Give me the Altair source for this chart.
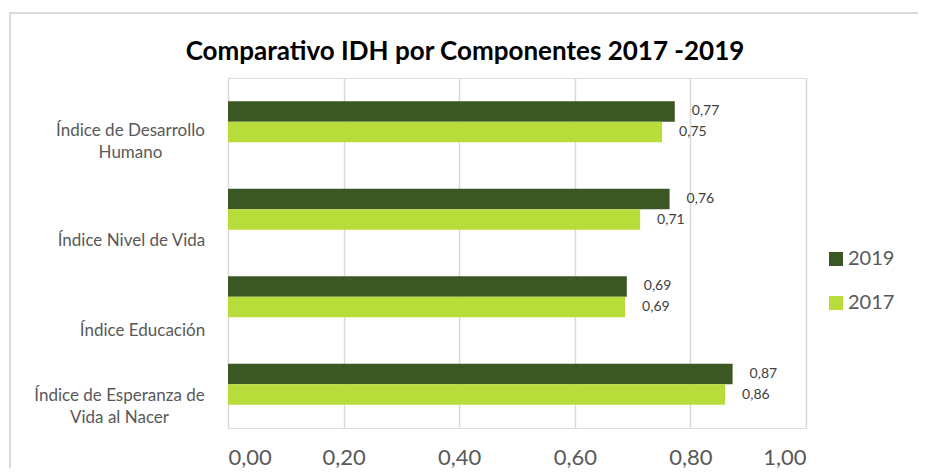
import altair as alt
import pandas as pd

categories = [
    "Índice de Desarrollo Humano",
    "Índice Nivel de Vida",
    "Índice Educación",
    "Índice de Esperanza de Vida al Nacer",
]
years = ["2019", "2017"]
values_2019 = [0.773, 0.764, 0.690, 0.873]
values_2017 = [0.751, 0.713, 0.687, 0.860]
x_ticks = [0.0, 0.2, 0.4, 0.6, 0.8, 1.0]
colors = ["#3A5724", "#B8DC3A"]

rows = []
for c, v19, v17 in zip(categories, values_2019, values_2017):
    rows.append({"cat": c, "year": "2019", "value": v19})
    rows.append({"cat": c, "year": "2017", "value": v17})
df = pd.DataFrame(rows)

FONT = "Lato"
label_expr = (
    "datum.value == 'Índice de Desarrollo Humano' ? ['Índice de Desarrollo', 'Humano'] : "
    "datum.value == 'Índice de Esperanza de Vida al Nacer' ? ['Índice de Esperanza de', 'Vida al Nacer'] : "
    "datum.value"
)

label_padding = {
    "condition": [
        {"test": "datum.value == 'Índice de Desarrollo Humano'", "value": 98},
        {"test": "datum.value == 'Índice Nivel de Vida'", "value": 97},
        {"test": "datum.value == 'Índice Educación'", "value": 86},
    ],
    "value": 109,
}
label_offset = {
    "condition": [
        {"test": "datum.value == 'Índice de Desarrollo Humano'", "value": 18},
        {"test": "datum.value == 'Índice de Esperanza de Vida al Nacer'", "value": 21},
        {"test": "datum.value == 'Índice Educación'", "value": 43},
    ],
    "value": 41,
}

y_enc = alt.Y(
    "cat:N",
    sort=categories,
    scale=alt.Scale(paddingInner=0.53, paddingOuter=0.265),
    axis=alt.Axis(
        title=None, domain=False, ticks=False, grid=False,
        labelExpr=label_expr, labelAlign="center", labelBaseline="bottom",
        labelOffset=label_offset, labelPadding=label_padding,
        labelFontSize=17, labelColor="#595959",
        labelFont=FONT, labelLineHeight=22, labelLimit=300,
    ),
)
x_enc = alt.X(
    "value:Q",
    scale=alt.Scale(domain=[0, 1], nice=False),
    axis=alt.Axis(
        title=None, values=x_ticks, domain=False, ticks=False, grid=True,
        gridColor="#D9D9D9", gridWidth=1.5,
        labelExpr="replace(format(datum.value, '.2f'), '.', ',')",
        labelFontSize=22, labelColor="#595959", labelFont=FONT, labelPadding=19,
    ),
)
y_off = alt.YOffset("year:N", sort=years)

frame = alt.Chart(pd.DataFrame({"a": [0]})).mark_rect(
    filled=False, stroke="#D9D9D9", strokeWidth=2
).encode(
    x=alt.value(-218), x2=alt.value(693), y=alt.value(-65), y2=alt.value(500)
)

bars = alt.Chart(df).mark_bar().encode(
    x=x_enc,
    y=y_enc,
    yOffset=y_off,
    color=alt.Color(
        "year:N",
        scale=alt.Scale(domain=years, range=colors),
        legend=alt.Legend(
            title=None, orient="none", legendX=598, legendY=171,
            symbolType="square", symbolSize=196, symbolStrokeWidth=0,
            labelFontSize=20, labelColor="#595959", labelFont=FONT,
            labelOffset=2, rowPadding=24,
        ),
    ),
)

labels = alt.Chart(df).transform_calculate(
    txt="replace(format(datum.value, '.2f'), '.', ',')"
).mark_text(
    align="left", baseline="middle", dx=17, fontSize=14, color="#404040", font=FONT
).encode(
    x=alt.X("value:Q"),
    y=alt.Y("cat:N", sort=categories),
    yOffset=y_off,
    text="txt:N",
)

chart = alt.layer(frame, bars, labels).properties(
    width=578,
    height=350,
    padding={"left": 220, "top": 70, "right": 112, "bottom": 40},
    autosize=alt.AutoSizeParams(type="none"),
    title=alt.TitleParams(
        "Comparativo IDH por Componentes 2017 -2019",
        fontSize=26, fontWeight="bold", font=FONT, color="#000000",
        anchor="middle", dx=-52, offset=-53,
    ),
).configure_view(stroke=None).configure(background="white")

chart.save("out.html", embed_options={"renderer": "svg", "actions": False})
